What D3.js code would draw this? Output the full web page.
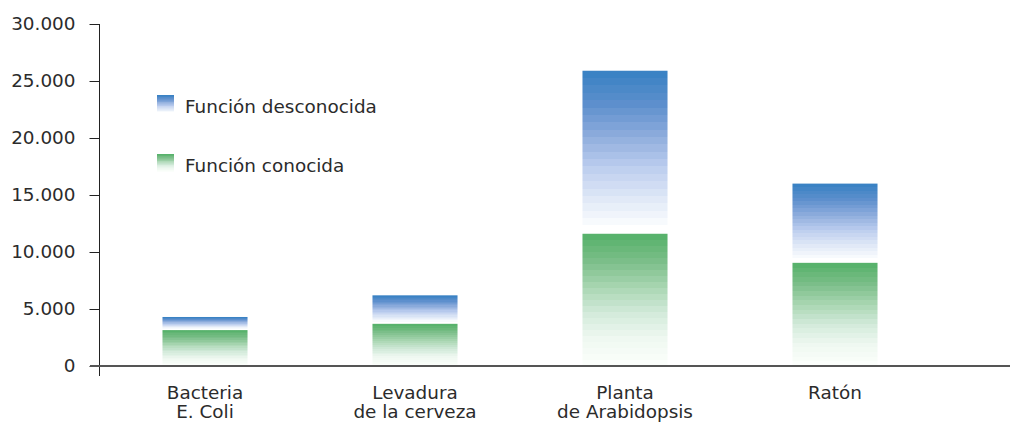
<!DOCTYPE html>
<html>
<head>
<meta charset="utf-8">
<script src="https://cdn.jsdelivr.net/npm/d3@7"></script>
<style>
  html, body { margin: 0; padding: 0; background: #fff; }
  svg { display: block; font-family: "DejaVu Sans", Verdana, sans-serif; }
</style>
</head>
<body>
<svg id="chart" width="1015" height="425"></svg>
<script>
// Número de genes por organismo
const categories = [["Bacteria", "E. Coli"], ["Levadura", "de la cerveza"], ["Planta", "de Arabidopsis"], ["Ratón"]];
const known = [3150, 3700, 11600, 9050];      // Función conocida
const total = [4300, 6200, 25900, 16000];     // total de genes
const yTicks = [0, 5000, 10000, 15000, 20000, 25000, 30000];
const seriesNames = ["Función desconocida", "Función conocida"];

const svg = d3.select("#chart");
const textColor = "#2b2b2b";
const fontSize = "18.4px";

const x = d3.scaleBand().domain(d3.range(categories.length)).range([100, 940]).paddingInner(0.595).paddingOuter(0.2975);
const y = d3.scaleLinear().domain([0, 30000]).range([366, 24]);

const es = d3.formatLocale({ decimal: ",", thousands: ".", grouping: [3], currency: ["", "€"] });
const fmt = es.format(",d");

// Degradados escalonados, color intenso arriba y casi blanco abajo
const defs = svg.append("defs");
function steppedGradient(id, stops, bands) {
  const interp = d3.piecewise(d3.interpolateRgb, stops);
  const g = defs.append("linearGradient").attr("id", id)
    .attr("x1", 0).attr("y1", 0).attr("x2", 0).attr("y2", 1);
  for (let i = 0; i < bands; i++) {
    const c = interp(i / (bands - 1));
    g.append("stop").attr("offset", i / bands).attr("stop-color", c);
    g.append("stop").attr("offset", (i + 1) / bands).attr("stop-color", c);
  }
}
steppedGradient("gBlue", ["#3a82c4", "#5f90cd", "#8eaddd", "#bccdee", "#dfe8f7", "#ffffff"], 22);
steppedGradient("gGreen", ["#58b26c", "#7dbf8a", "#a9d6b2", "#d2eada", "#eef8f0", "#fbfefb"], 22);

// Barras apiladas
const bars = svg.append("g");
categories.forEach((c, i) => {
  bars.append("rect")
    .attr("x", x(i)).attr("width", x.bandwidth())
    .attr("y", y(total[i])).attr("height", y(known[i]) - y(total[i]) - 1)
    .attr("fill", "url(#gBlue)");
  bars.append("rect")
    .attr("x", x(i)).attr("width", x.bandwidth())
    .attr("y", y(known[i])).attr("height", y(0) - y(known[i]))
    .attr("fill", "url(#gGreen)");
});

// Eje Y
const yAxis = svg.append("g").attr("transform", "translate(99.5,0)")
  .call(d3.axisLeft(y).tickValues(yTicks).tickFormat(fmt).tickSize(10).tickPadding(14));
yAxis.select(".domain").remove();
yAxis.selectAll(".tick line").attr("stroke", "#222");
yAxis.selectAll(".tick text").attr("fill", textColor).style("font-size", fontSize)
  .style("font-family", "'DejaVu Sans', Verdana, sans-serif");
svg.append("line").attr("x1", 99.5).attr("x2", 99.5).attr("y1", y(30000)).attr("y2", 376)
  .attr("stroke", "#222").attr("stroke-width", 1);

// Eje X
svg.append("line").attr("x1", 90).attr("x2", 1010).attr("y1", 366).attr("y2", 366)
  .attr("stroke", "#555").attr("stroke-width", 2);

// Etiquetas de categoría
categories.forEach((lines, i) => {
  const t = svg.append("text").attr("text-anchor", "middle").attr("fill", textColor)
    .style("font-size", fontSize);
  lines.forEach((ln, j) => {
    t.append("tspan").attr("x", x(i) + x.bandwidth() / 2).attr("y", 399 + j * 19).text(ln);
  });
});

// Leyenda
const legend = svg.append("g");
const legendFill = ["url(#gBlue)", "url(#gGreen)"];
const legendY = [113, 172];
seriesNames.forEach((name, i) => {
  legend.append("rect").attr("x", 157).attr("y", legendY[i] - 18).attr("width", 17).attr("height", 18)
    .attr("fill", legendFill[i]);
  legend.append("text").attr("x", 185).attr("y", legendY[i]).attr("fill", textColor)
    .style("font-size", fontSize).text(name);
});
</script>
</body>
</html>
